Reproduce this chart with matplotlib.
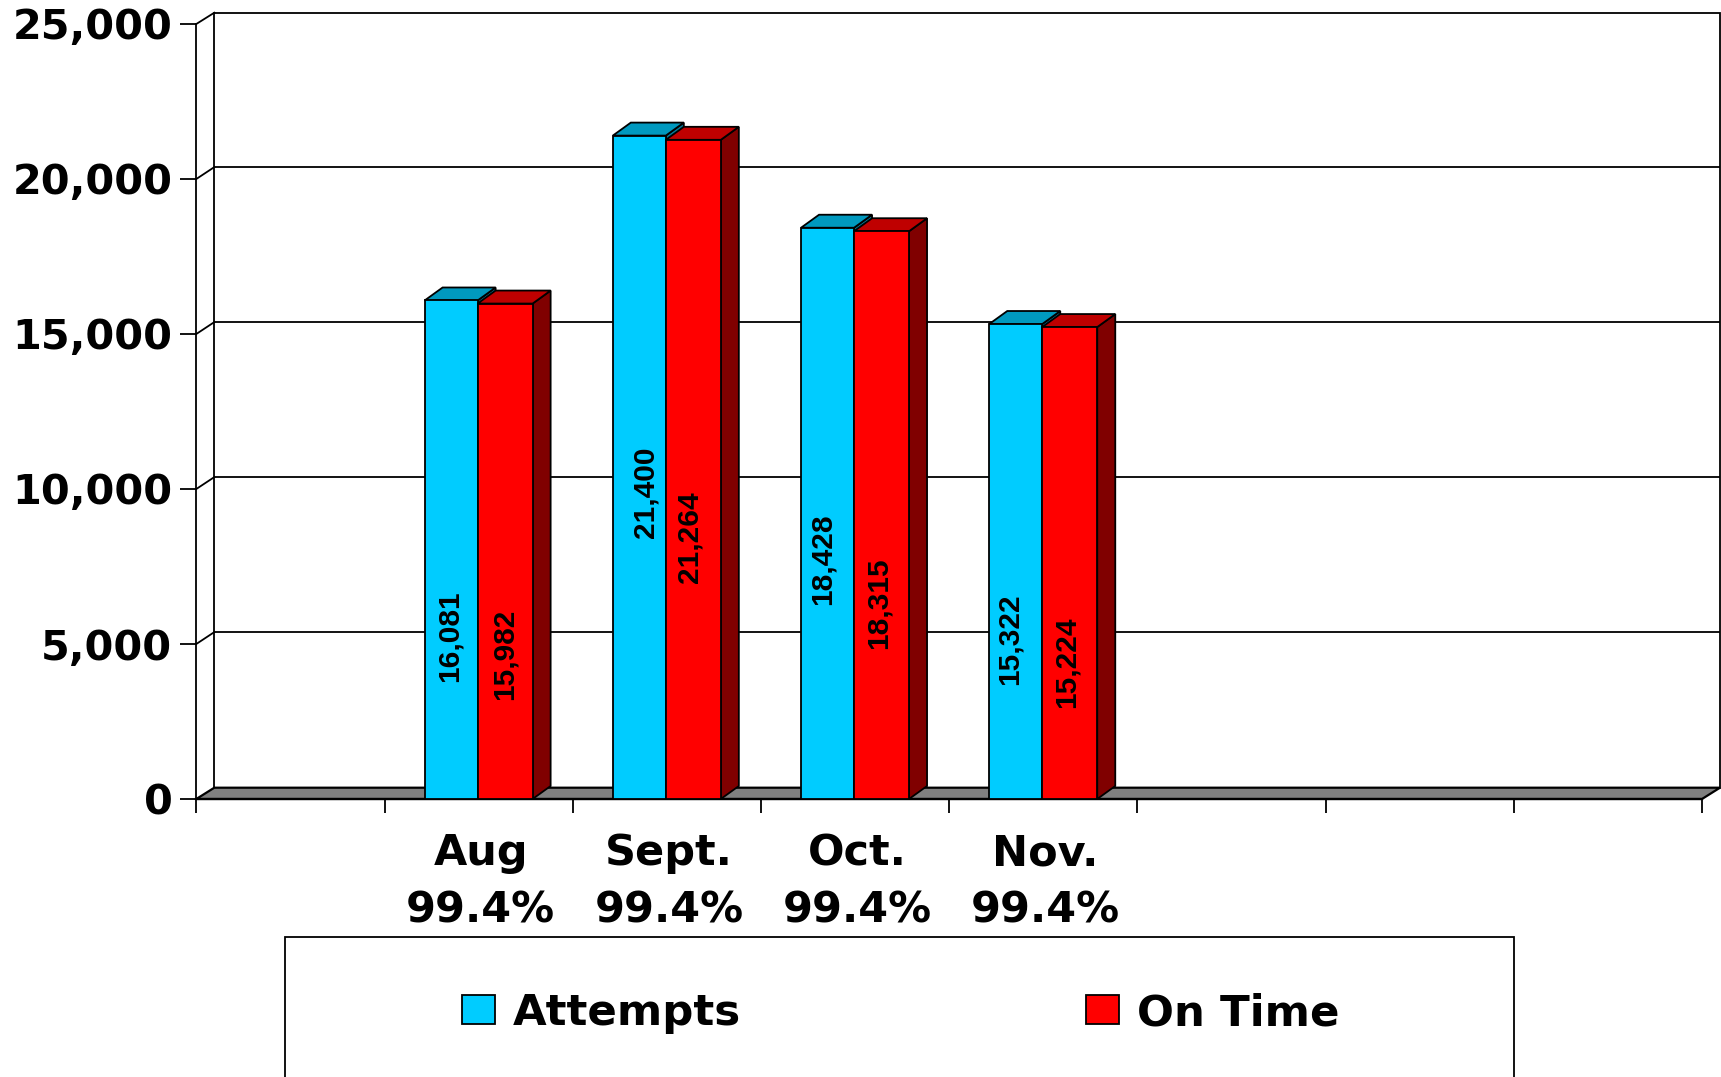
import numpy as np
import matplotlib
matplotlib.use("Agg")
import matplotlib.pyplot as plt
from matplotlib.patches import Polygon, Rectangle
from matplotlib.ticker import FixedLocator, FuncFormatter
from matplotlib.transforms import IdentityTransform

# Monthly volumes; the chart keeps empty slots for the months still to come
categories = ["", "Aug", "Sept.", "Oct.", "Nov.", "", "", ""]
rates = ["", "99.4%", "99.4%", "99.4%", "99.4%", "", "", ""]
attempts = [np.nan, 16081, 21400, 18428, 15322, np.nan, np.nan, np.nan]
on_time = [np.nan, 15982, 21264, 18315, 15224, np.nan, np.nan, np.nan]
y_ticks = [0, 5000, 10000, 15000, 20000, 25000]

# Heights and sideways nudges (in pixels) of the rotated value labels
attempts_label_y = [np.nan, 5260, 9905, 7745, 5165, np.nan, np.nan, np.nan]
on_time_label_y = [np.nan, 4680, 8460, 6325, 4400, np.nan, np.nan, np.nan]
attempts_label_dx = [0, -1.5, 6.5, -4.5, -6.5, 0, 0, 0]
on_time_label_dx = [0, 0, -3.5, -2.5, -3.5, 0, 0, 0]

W, H = 1721, 1077
SLOT_PX = 188.2
BLACK = "#000000"
LW = 1.3
BIG_FAMILY = "DejaVu Sans"
TICK_FONT = 29.8
CAT_FONT = 31
LEGEND_FONT = 31.3

# Pseudo-3D depth of the chart box and of the bars, in data units
BOX_DX = 18 / SLOT_PX
BOX_DY = 11.3 / 0.031
GRID_DY = 11.9 / 0.031
BAR_DX = 18 / SLOT_PX
BAR_DY = 13 / 0.031

fig = plt.figure(figsize=(W / 100, H / 100), dpi=100, facecolor="white")
ax = fig.add_axes([196.3 / W, (H - 799) / H, 1505.7 / W, 775 / H])
ax.patch.set_visible(False)
ax.set_xlim(0, len(categories))
ax.set_ylim(0, 25000)
for side in ("top", "right"):
    ax.spines[side].set_visible(False)
ax.spines["left"].set_linewidth(LW)
ax.spines["bottom"].set_linewidth(1.6)

# Back wall, gridlines with their slanted returns, and grey floor
n = len(categories)
ax.add_patch(Rectangle((BOX_DX, BOX_DY), n, 25000, fill=False,
                       edgecolor=BLACK, lw=LW, clip_on=False, zorder=1))
for v in y_ticks[1:-1]:
    ax.plot([BOX_DX, n + BOX_DX], [v + GRID_DY] * 2, color=BLACK,
            lw=LW, clip_on=False, zorder=1.1, solid_capstyle="butt")
    ax.plot([0, BOX_DX], [v, v + GRID_DY], color=BLACK, lw=LW, clip_on=False, zorder=1.1)
ax.plot([0, BOX_DX], [25000, 25000 + BOX_DY], color=BLACK, lw=LW, clip_on=False, zorder=1.1)
ax.add_patch(Polygon([(0, 0), (n, 0), (n + BOX_DX, BOX_DY), (BOX_DX, BOX_DY)],
                     closed=True, facecolor="#808080", edgecolor=BLACK, lw=1.6,
                     clip_on=False, zorder=1.2))


def draw_series(offset, width, values, front, top, side, label, base_z):
    """Draw one series of bars with their top and side faces."""
    xs = np.arange(n) + 0.5 + offset
    for x, v in zip(xs, values):
        if np.isnan(v):
            continue
        x0, x1 = x, x + width
        ax.add_patch(Polygon([(x1, 0), (x1 + BAR_DX, BAR_DY), (x1 + BAR_DX, v + BAR_DY), (x1, v)],
                             closed=True, facecolor=side, edgecolor=BLACK, lw=LW,
                             clip_on=False, zorder=base_z))
        ax.add_patch(Polygon([(x0, v), (x1, v), (x1 + BAR_DX, v + BAR_DY), (x0 + BAR_DX, v + BAR_DY)],
                             closed=True, facecolor=top, edgecolor=BLACK, lw=LW,
                             clip_on=False, zorder=base_z))
    return ax.bar(xs, values, width=width, align="edge", color=front, edgecolor=BLACK,
                  linewidth=LW, label=label, zorder=base_z + 0.1, clip_on=False)


BLUE_W = 53 / SLOT_PX
RED_W = 55 / SLOT_PX
BLUE_X = -54 / SLOT_PX
RED_X = -1 / SLOT_PX
blue_bars = draw_series(BLUE_X, BLUE_W, attempts, "#00CCFF", "#0099BF", "#007A99", "Attempts", 3.0)
red_bars = draw_series(RED_X, RED_W, on_time, "#FF0000", "#BF0000", "#800000", "On Time", 3.2)

# Rotated value labels inside the bars
for i in range(n):
    if np.isnan(attempts[i]):
        continue
    ax.text(i + 0.5 + BLUE_X + BLUE_W / 2 + attempts_label_dx[i] / SLOT_PX, attempts_label_y[i],
            f"{attempts[i]:,}", rotation=90, ha="center", va="center", fontsize=21.5,
            fontweight="bold", family="Liberation Sans", color=BLACK, zorder=5)
    ax.text(i + 0.5 + RED_X + RED_W / 2 + on_time_label_dx[i] / SLOT_PX, on_time_label_y[i],
            f"{on_time[i]:,}", rotation=90, ha="center", va="center", fontsize=21.5,
            fontweight="bold", family="Liberation Sans", color=BLACK, zorder=5)

# Axes: plain ticks on the slot boundaries, two-line labels centred in the slots
ax.yaxis.set_major_locator(FixedLocator(y_ticks))
ax.yaxis.set_major_formatter(FuncFormatter(lambda v, _: f"{int(v):,}"))
ax.tick_params(axis="y", length=11.7, width=LW, pad=5.5, labelsize=TICK_FONT)
for lab in ax.get_yticklabels():
    lab.set_fontweight("bold")
    lab.set_family(BIG_FAMILY)

ax.set_xticks(np.arange(n + 1))
ax.set_xticklabels([])
ax.tick_params(axis="x", which="major", length=9.9, width=LW)
ax.set_xticks(np.arange(n) + 0.5 + 2 / SLOT_PX, minor=True)
ax.set_xticklabels([f"{c}\n{r}" if c else "" for c, r in zip(categories, rates)], minor=True)
ax.tick_params(axis="x", which="minor", length=0, pad=24, labelsize=CAT_FONT)
for lab in ax.get_xticklabels(minor=True):
    lab.set_fontweight("bold")
    lab.set_family(BIG_FAMILY)
    lab.set_linespacing(1.46)

# Legend box runs off the bottom edge of the figure
ax.add_patch(Rectangle((285, -60), 1228.6, H - 937.3 + 60, transform=IdentityTransform(),
                       fill=False, edgecolor=BLACK, lw=LW, clip_on=False, zorder=1))
leg = ax.legend(handles=[blue_bars, red_bars], loc="upper left",
                bbox_to_anchor=(462, H - 992), bbox_transform=IdentityTransform(),
                ncol=2, frameon=False, borderpad=0, borderaxespad=0,
                handlelength=0.77, handleheight=0.65, handletextpad=0.4,
                columnspacing=7.93, labelspacing=0,
                prop={"family": BIG_FAMILY, "weight": "bold", "size": LEGEND_FONT})

fig.savefig("out.png", dpi=100, facecolor="white")
